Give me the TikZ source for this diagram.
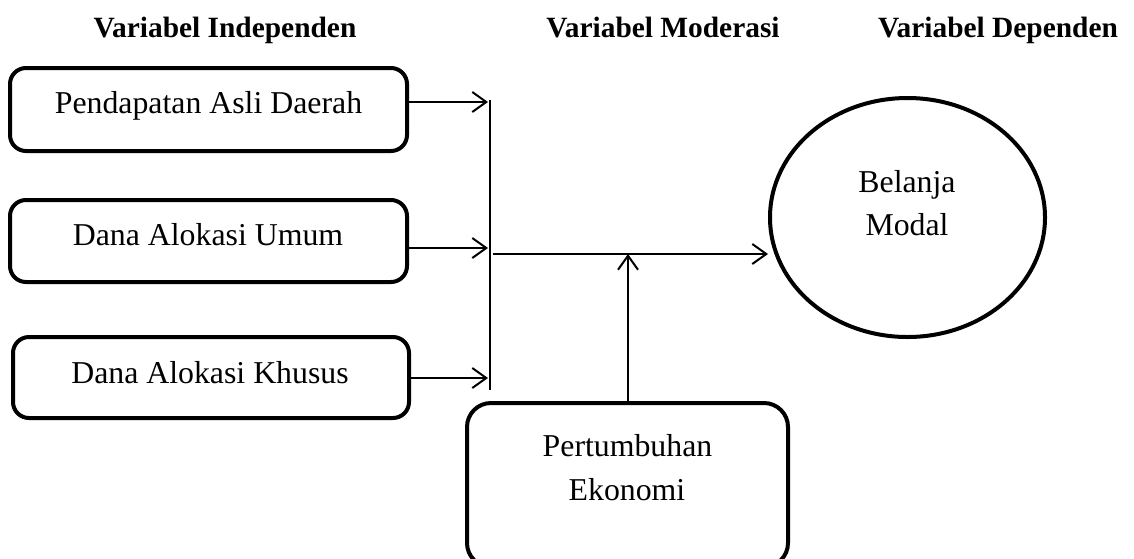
\documentclass[tikz,border=0pt]{standalone}
\usepackage{fontspec}
\setmainfont{Liberation Serif}
\usetikzlibrary{arrows.meta,shapes.geometric}
\begin{document}
\begin{tikzpicture}[x=0.5pt,y=-0.5pt,
  boxnode/.style={draw,line width=2pt,rounded corners=8pt,inner sep=0pt},
  lbl/.style={anchor=base,inner sep=0pt,font=\fontsize{15.9}{19}\selectfont},
  hdr/.style={anchor=base,inner sep=0pt,font=\fontsize{14.7}{18}\selectfont\bfseries},
  conn/.style={line width=1pt},
  arr/.style={line width=1pt,-{Straight Barb[length=7pt,width=10pt,line width=1pt]}}]
\useasboundingbox (0,0) rectangle (1134,558);
% headers
\node[hdr] (h1) at (225,37) {Variabel Independen};
\node[hdr] (h2) at (663,37) {Variabel Moderasi};
\node[hdr] (h3) at (998,37) {Variabel Dependen};
% boxes
\node[boxnode,minimum width=198.5pt,minimum height=41.5pt] (b1) at (208.5,109.5) {};
\node[boxnode,minimum width=198.5pt,minimum height=41pt] (b2) at (208.5,241) {};
\node[boxnode,minimum width=198pt,minimum height=40.5pt] (b3) at (211,377.5) {};
\node[boxnode,rounded corners=12pt,minimum width=160.5pt,minimum height=82pt] (b4) at (627.5,485) {};
\node[draw,line width=2pt,ellipse,minimum width=137.5pt,minimum height=119.5pt,inner sep=0pt] (e) at (907.5,217.5) {};
% labels
\node[lbl] (t1) at (208.5,113) {Pendapatan Asli Daerah};
\node[lbl] (t2) at (208,245) {Dana Alokasi Umum};
\node[lbl] (t3) at (210,383) {Dana Alokasi Khusus};
\node[lbl] (t4) at (627.5,456) {Pertumbuhan};
\node[lbl] (t5) at (627,500) {Ekonomi};
\node[lbl] (t6) at (907,192) {Belanja};
\node[lbl] (t7) at (907,235) {Modal};
% connector coordinates
\coordinate (vtop) at (490,100);
\coordinate (vbot) at (490,390);
\coordinate (j1) at (488,102);
\coordinate (j2) at (488,248);
\coordinate (j3) at (488,378);
\coordinate (hs) at (493,254);
\coordinate (mid) at (628,254);
\draw[conn] (vtop) -- (vbot);
\draw[arr] (b1.east |- j1) -- (j1);
\draw[arr] (b2.east |- j2) -- (j2);
\draw[arr] (b3.east |- j3) -- (j3);
\draw[arr] (hs) -- (e.west |- hs);
\draw[arr] (b4.north -| mid) -- (mid);
\end{tikzpicture}
\end{document}
